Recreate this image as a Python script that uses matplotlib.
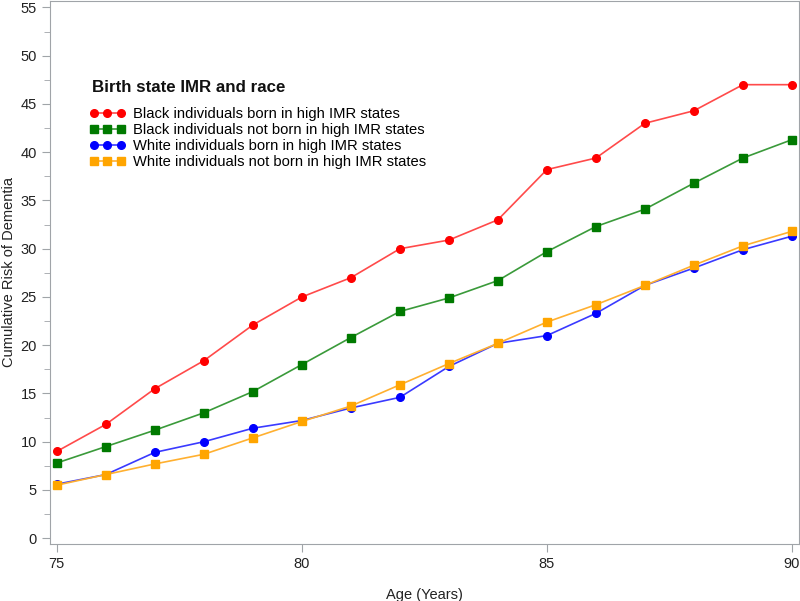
import matplotlib
matplotlib.use("Agg")
import matplotlib.pyplot as plt
from matplotlib.ticker import MultipleLocator

plt.rcParams['font.family'] = ['Liberation Sans', 'DejaVu Sans']

ages = list(range(75, 91))
black_high = [9.0, 11.8, 15.5, 18.4, 22.1, 25.0, 27.0, 30.0, 30.9, 33.0, 38.2, 39.4, 43.0, 44.3, 47.0, 47.0]
black_not = [7.8, 9.5, 11.2, 13.0, 15.2, 18.0, 20.8, 23.5, 24.9, 26.7, 29.7, 32.3, 34.1, 36.8, 39.4, 41.3]
white_high = [5.6, 6.6, 8.9, 10.0, 11.4, 12.2, 13.5, 14.6, 17.8, 20.2, 21.0, 23.3, 26.2, 28.0, 29.9, 31.3]
white_not = [5.5, 6.6, 7.7, 8.7, 10.4, 12.1, 13.7, 15.9, 18.1, 20.2, 22.4, 24.2, 26.2, 28.3, 30.3, 31.8]
labels = ["Black individuals born in high IMR states",
          "Black individuals not born in high IMR states",
          "White individuals born in high IMR states",
          "White individuals not born in high IMR states"]
legend_title = "Birth state IMR and race"

fig = plt.figure(figsize=(8, 6.01), dpi=100)
ax = fig.add_axes([0.0625, 0.0948, 0.936, 0.904])

ms = 5.5
ax.plot(ages, black_high, color='#ff4a4a', lw=1.2, marker='o', ms=ms,
        mfc='#ff0000', mec='#ff0000', label=labels[0])
ax.plot(ages, black_not, color='#3a9a3a', lw=1.2, marker='s', ms=ms,
        mfc='#007a00', mec='#007a00', label=labels[1])
ax.plot(ages, white_high, color='#3a3aff', lw=1.2, marker='o', ms=ms,
        mfc='#0000ff', mec='#0000ff', label=labels[2])
ax.plot(ages, white_not, color='#ffb030', lw=1.2, marker='s', ms=ms,
        mfc='#ffa500', mec='#ffa500', label=labels[3])

ax.set_xlim(74.86, 90.14)
ax.set_ylim(-0.6, 55.7)
ax.set_xticks([75, 80, 85, 90])
ax.set_yticks(range(0, 56, 5))
ax.yaxis.set_minor_locator(MultipleLocator(2.5))

for s in ax.spines.values():
    s.set_color('#a0a4a8')
ax.tick_params(axis='both', which='major', colors='#a0a4a8', labelcolor='#222222',
               labelsize=10.5, length=6)
ax.tick_params(axis='y', which='minor', colors='#a0a4a8', length=4)

ax.set_xlabel("Age (Years)", fontsize=10.5, color='#222222', labelpad=12)
ax.set_ylabel("Cumulative Risk of Dementia", fontsize=10.5, color='#222222')
ax.yaxis.set_label_coords(-0.046, 0.5)

leg = ax.legend(loc='upper left', bbox_to_anchor=(0.053, 0.805), frameon=False,
                numpoints=3, markerscale=1.0, borderpad=0, borderaxespad=0,
                handlelength=2.4, handletextpad=0.55, labelspacing=0.15,
                fontsize=10.6)
fig.text(92 / 800, 1 - 87 / 601, legend_title, fontsize=12.2, fontweight='bold',
         color='#111111', ha='left', va='center')

fig.savefig("out.png", dpi=100)
